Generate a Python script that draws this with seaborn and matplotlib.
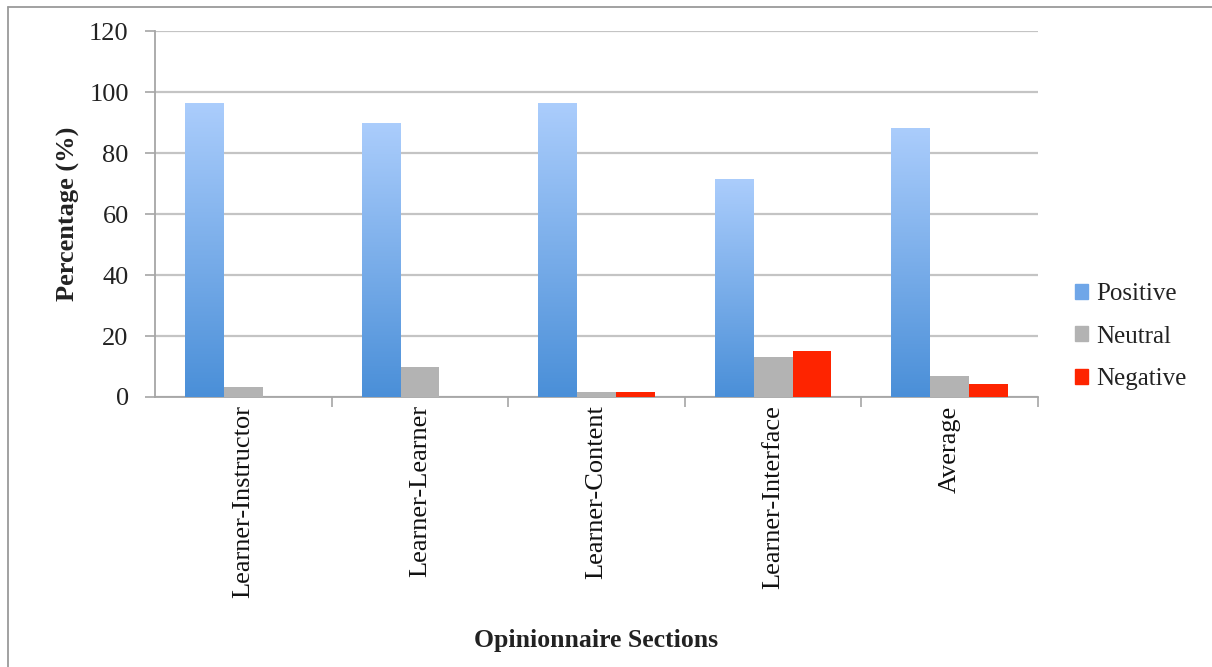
import numpy as np
import pandas as pd
import matplotlib
matplotlib.use("Agg")
import matplotlib.pyplot as plt
import seaborn as sns
from matplotlib.lines import Line2D

# data
sections = ["Learner-Instructor", "Learner-Learner", "Learner-Content", "Learner-Interface", "Average"]
positive = [96.3, 89.7, 96.3, 71.4, 88.3]
neutral = [3.2, 9.9, 1.7, 13.2, 7.0]
negative = [0.0, 0.0, 1.8, 15.1, 4.2]
y_ticks = [0, 20, 40, 60, 80, 100, 120]

df = pd.DataFrame({
    "Section": sections * 3,
    "Opinion": ["Positive"] * 5 + ["Neutral"] * 5 + ["Negative"] * 5,
    "Value": positive + neutral + negative,
})

sns.set_style("white")
plt.rcParams["font.family"] = ["Liberation Serif", "DejaVu Serif"]

fig = plt.figure(figsize=(12.12, 6.67), dpi=100)
ax = fig.add_axes([0.128, 0.4048, 0.7284, 0.5487])

palette = {"Positive": "#6fa6e8", "Neutral": "#b3b3b3", "Negative": "#fe2400"}
sns.barplot(data=df, x="Section", y="Value", hue="Opinion", palette=palette,
            width=0.66, gap=0, saturation=1, linewidth=0, ax=ax, legend=False, zorder=3)

# gradient fill for the positive bars
grad = np.linspace(0, 1, 256).reshape(-1, 1)
cmap = matplotlib.colors.LinearSegmentedColormap.from_list("blu", ["#4a8fd8", "#abcdfc"])
for bar in ax.containers[0]:
    x0, y0 = bar.get_x(), bar.get_y()
    w, h = bar.get_width(), bar.get_height()
    bar.set_facecolor("none")
    im = ax.imshow(grad, extent=[x0, x0 + w, y0, y0 + h], origin="lower",
                   cmap=cmap, aspect="auto", zorder=3)
    im.set_clip_path(bar)
ax.set_xlim(-0.5, 4.5)
ax.set_ylim(0, 120)
ax.set_aspect("auto")

# axes styling
ax.set_yticks(y_ticks)
ax.yaxis.grid(True, color="#c4c4c4", linewidth=1.6, zorder=0)
ax.set_axisbelow(True)
for s in ["top", "right"]:
    ax.spines[s].set_visible(False)
for s in ["left", "bottom"]:
    ax.spines[s].set_color("#a6a6a6")
    ax.spines[s].set_linewidth(1.3)

ax.tick_params(axis="y", which="major", left=True, length=7, width=1.2, color="#a6a6a6",
               pad=12, labelsize=19, labelcolor="#222222")
ax.set_xticks(range(len(sections)))
ax.set_xticklabels(sections, rotation=90, fontsize=19, color="#111111")
ax.tick_params(axis="x", which="major", length=0, pad=6)
ax.set_xticks([0.5, 1.5, 2.5, 3.5, 4.5], minor=True)
ax.tick_params(axis="x", which="minor", bottom=True, length=7, width=1.2, color="#a6a6a6")

ax.set_xlabel("Opinionnaire Sections", fontsize=18.5, fontweight="bold", color="#222222")
ax.set_ylabel("Percentage (%)", fontsize=19, fontweight="bold", color="#222222")
ax.xaxis.set_label_coords(0.5, -0.635)
ax.yaxis.set_label_coords(-0.085, 0.5)

# legend
handles = [plt.Rectangle((0, 0), 1, 1, color=palette[k]) for k in ["Positive", "Neutral", "Negative"]]
fig.legend(handles, ["Positive", "Neutral", "Negative"], loc="center left",
           bbox_to_anchor=(0.868, 0.4955), frameon=False, fontsize=18,
           handlelength=0.55, handleheight=0.55, handletextpad=0.3, labelspacing=0.82,
           labelcolor="#222222")

# thin frame lines along top and left edge of the image
fig.add_artist(Line2D([0.0066, 1.0], [0.9895, 0.9895], transform=fig.transFigure, color="#9a9a9a", lw=1.3))
fig.add_artist(Line2D([0.0066, 0.0066], [0.0, 0.9895], transform=fig.transFigure, color="#9a9a9a", lw=1.3))

fig.savefig("out.png", dpi=100)
